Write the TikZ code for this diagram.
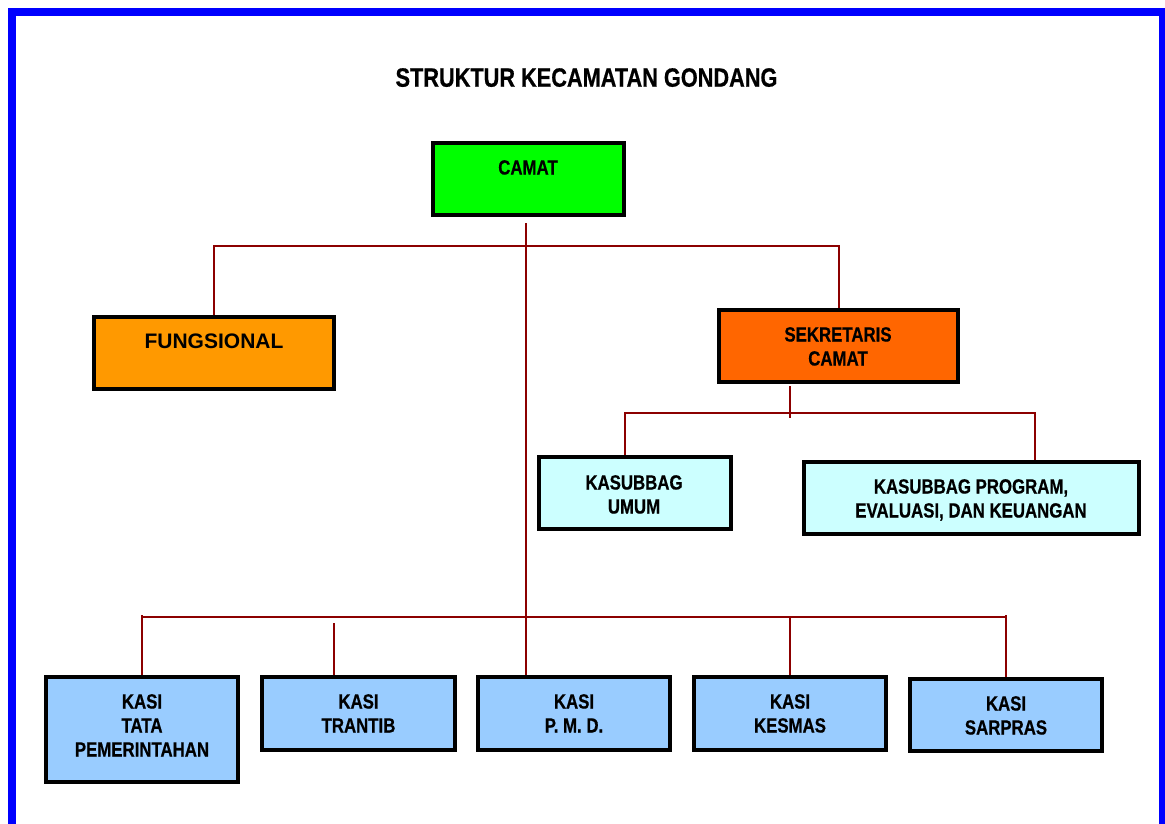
\documentclass[tikz,border=0pt]{standalone}
\usepackage{fontspec}
\setmainfont{Liberation Sans}
\newfontfamily\nbf[FakeStretch=0.82,FakeBold=0.6]{Liberation Sans}
\usetikzlibrary{backgrounds}
\definecolor{conncol}{RGB}{140,0,0}
\definecolor{framecol}{RGB}{0,0,255}
\definecolor{camatfill}{RGB}{0,255,0}
\definecolor{fungfill}{RGB}{255,153,0}
\definecolor{sekfill}{RGB}{255,102,0}
\definecolor{subfill}{RGB}{204,255,255}
\definecolor{kasifill}{RGB}{153,204,255}
\begin{document}
\begin{tikzpicture}[x=1pt,y=-1pt,
  orgbox/.style={draw=black, line width=4pt, inner sep=0pt, rectangle},
  lbl/.style={anchor=north, inner sep=0pt, align=center, text=black,
    font=\nbf\bfseries\fontsize{20.5}{24}\selectfont},
  conn/.style={draw=conncol, line width=2pt}]
\useasboundingbox (0,0) rectangle (1165,824);
\clip (0,0) rectangle (1165,824);
\draw[framecol, line width=8pt] (11.5,12.5) rectangle (1162.5,900);

\node[anchor=north, inner sep=0pt, font=\nbf\bfseries\fontsize{26.5}{30}\selectfont] (title) at (586.5,68) {STRUKTUR KECAMATAN GONDANG};

% boxes (centre, outer size minus border)
\node[orgbox, fill=camatfill, minimum width=191.5pt, minimum height=72pt] (camat) at (528.3,179) {};
\node[orgbox, fill=fungfill, minimum width=240pt, minimum height=72pt] (fung) at (214,353) {};
\node[orgbox, fill=sekfill, minimum width=239pt, minimum height=72pt] (sek) at (838.5,346) {};
\node[orgbox, fill=subfill, minimum width=192pt, minimum height=72pt] (umum) at (634.5,493) {};
\node[orgbox, fill=subfill, minimum width=335pt, minimum height=72pt] (prog) at (971.5,498) {};
\node[orgbox, fill=kasifill, minimum width=192pt, minimum height=105pt] (tata) at (142,729.5) {};
\node[orgbox, fill=kasifill, minimum width=193pt, minimum height=73pt] (tran) at (358.5,713.5) {};
\node[orgbox, fill=kasifill, minimum width=192pt, minimum height=73pt] (pmd) at (574,713.5) {};
\node[orgbox, fill=kasifill, minimum width=192pt, minimum height=73pt] (kes) at (790,713.5) {};
\node[orgbox, fill=kasifill, minimum width=192pt, minimum height=72pt] (sarp) at (1006,715) {};

% texts
\node[lbl] (camat-t) at (528,160) {CAMAT};
\node[anchor=north, inner sep=0pt, font=\bfseries\fontsize{21}{24}\selectfont] (fung-t) at (214,334) {FUNGSIONAL};
\node[lbl] (sek-t) at (838,327) {SEKRETARIS\\CAMAT};
\node[lbl] (umum-t) at (634,475) {KASUBBAG\\UMUM};
\node[lbl] (prog-t) at (971,479) {KASUBBAG PROGRAM,\\EVALUASI, DAN KEUANGAN};
\node[lbl] (tata-t) at (142,694) {KASI\\TATA\\PEMERINTAHAN};
\node[lbl] (tran-t) at (358.5,694) {KASI\\TRANTIB};
\node[lbl] (pmd-t) at (574,694) {KASI\\P. M. D.};
\node[lbl] (kes-t) at (790,694) {KASI\\KESMAS};
\node[lbl] (sarp-t) at (1006,696) {KASI\\SARPRAS};

% junction coordinates
\coordinate (vC) at (526,245.5);
\coordinate (sJ) at (790,413);
\coordinate (uX) at (625,413);
\coordinate (pX) at (1035,413);
\coordinate (bJ) at (526,617);
\coordinate (tT) at (334,623);

\begin{scope}[on background layer]
  % CAMAT trunk
  \draw[conn] (camat.south -| vC) ++(0,6) -- (pmd.north -| vC);
  % top bus
  \draw[conn] (fung.north) -- (fung.north |- vC) -- (sek.north |- vC) -- (sek.north);
  % sekretaris branch
  \draw[conn] (sek.south -| sJ) ++(0,2) -- ([yshift=-5pt]sJ);
  \draw[conn] (umum.north -| uX) -- (uX) -- (pX) -- (prog.north -| pX);
  % bottom bus
  \draw[conn] (tata.north |- bJ) ++(0,-2) -- (tata.north |- bJ) -- (sarp.north |- bJ) -- ++(0,-2);
  \draw[conn] (tata.north) -- (tata.north |- bJ);
  \draw[conn] (sarp.north) -- (sarp.north |- bJ);
  \draw[conn] (kes.north) -- (kes.north |- bJ);
  \draw[conn] (tran.north -| tT) -- (tT);
\end{scope}
\end{tikzpicture}
\end{document}
